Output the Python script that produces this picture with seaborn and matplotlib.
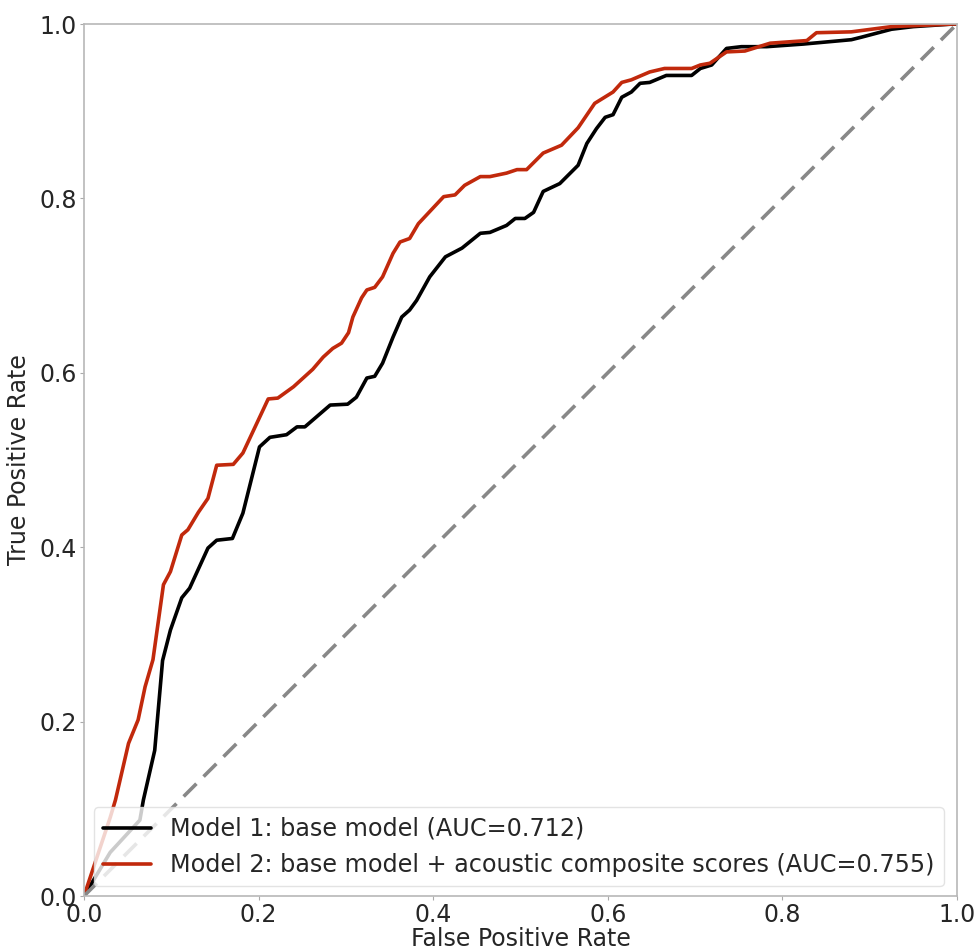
import numpy as np
import pandas as pd
import seaborn as sns
import matplotlib.pyplot as plt

# ROC points
fpr_base = [0.0, 0.03, 0.064, 0.068, 0.081, 0.09, 0.099, 0.112, 0.121, 0.142, 0.152, 0.170,
            0.182, 0.201, 0.213, 0.232, 0.244, 0.253, 0.282, 0.302, 0.312, 0.324, 0.333, 0.342,
            0.354, 0.364, 0.373, 0.381, 0.396, 0.414, 0.433, 0.454, 0.465, 0.484, 0.494, 0.505,
            0.515, 0.526, 0.545, 0.566, 0.576, 0.587, 0.597, 0.606, 0.616, 0.627, 0.637, 0.648,
            0.667, 0.696, 0.706, 0.719, 0.736, 0.753, 0.782, 0.824, 0.879, 0.891, 0.925, 0.950,
            0.996, 1.0]
tpr_base = [0.0, 0.05, 0.087, 0.11, 0.167, 0.27, 0.305, 0.342, 0.353, 0.399, 0.408, 0.41,
            0.439, 0.515, 0.526, 0.529, 0.538, 0.538, 0.563, 0.564, 0.572, 0.594, 0.596, 0.611,
            0.641, 0.664, 0.672, 0.683, 0.71, 0.733, 0.743, 0.760, 0.761, 0.769, 0.777, 0.777,
            0.784, 0.808, 0.817, 0.838, 0.863, 0.880, 0.893, 0.896, 0.916, 0.922, 0.932, 0.933,
            0.941, 0.941, 0.949, 0.953, 0.972, 0.974, 0.974, 0.977, 0.982, 0.985, 0.994, 0.997,
            1.0, 1.0]

fpr_acoustic = [0.0, 0.01, 0.03, 0.036, 0.051, 0.062, 0.070, 0.079, 0.091, 0.099, 0.112, 0.119,
                0.131, 0.142, 0.152, 0.171, 0.182, 0.211, 0.222, 0.240, 0.262, 0.274, 0.285,
                0.295, 0.303, 0.308, 0.318, 0.324, 0.333, 0.342, 0.354, 0.362, 0.373, 0.383,
                0.412, 0.425, 0.436, 0.454, 0.465, 0.484, 0.496, 0.507, 0.526, 0.547, 0.566,
                0.585, 0.606, 0.616, 0.627, 0.648, 0.665, 0.696, 0.706, 0.717, 0.736, 0.757,
                0.786, 0.828, 0.839, 0.879, 0.925, 0.996, 1.0]
tpr_acoustic = [0.0, 0.03, 0.09, 0.11, 0.175, 0.202, 0.240, 0.271, 0.357, 0.372, 0.414, 0.420,
                0.440, 0.456, 0.494, 0.495, 0.508, 0.570, 0.571, 0.584, 0.604, 0.618, 0.628,
                0.634, 0.646, 0.664, 0.686, 0.695, 0.698, 0.710, 0.737, 0.750, 0.754, 0.771,
                0.802, 0.804, 0.815, 0.825, 0.825, 0.829, 0.833, 0.833, 0.852, 0.861, 0.881,
                0.909, 0.922, 0.933, 0.936, 0.945, 0.949, 0.949, 0.953, 0.955, 0.968, 0.969,
                0.978, 0.981, 0.990, 0.991, 0.997, 1.0, 1.0]

labels = ["Model 1: base model (AUC=0.712)",
          "Model 2: base model + acoustic composite scores (AUC=0.755)"]
colors = ["#000000", "#c1290c"]
chance = [0.0, 1.0]

sns.set_style("ticks")
plt.rcParams['font.family'] = ['DejaVu Sans']

fig = plt.figure(figsize=(9.75, 9.5), dpi=100)
ax = fig.add_axes([84 / 975, 54 / 950, 873 / 975, 872 / 950])

curves = [(fpr_base, tpr_base), (fpr_acoustic, tpr_acoustic)]
for (fx, ty), lab, col in zip(curves, labels, colors):
    df = pd.DataFrame({"fpr": fx, "tpr": ty})
    sns.lineplot(data=df, x="fpr", y="tpr", sort=False, estimator=None,
                 color=col, linewidth=2.6, label=lab, ax=ax)

ax.plot(chance, chance, linestyle=(0, (5, 2.8)), color="#888888", linewidth=2.6)

ax.set_xlim(0, 1)
ax.set_ylim(0, 1)
ax.set_xlabel("False Positive Rate", fontsize=17, labelpad=0)
ax.set_ylabel("True Positive Rate", fontsize=17, labelpad=6)
ax.tick_params(axis="both", labelsize=17, length=3, width=0.8, color="#aaaaaa", pad=2)
for sp in ax.spines.values():
    sp.set_color("#b8b8b8")
    sp.set_linewidth(1.2)

leg = ax.legend(loc="lower left", fontsize=17.2, frameon=True, borderaxespad=0.4,
                handlelength=2.0, handletextpad=0.8)
leg.get_frame().set_edgecolor("#dddddd")

fig.savefig("out.png", dpi=100)
